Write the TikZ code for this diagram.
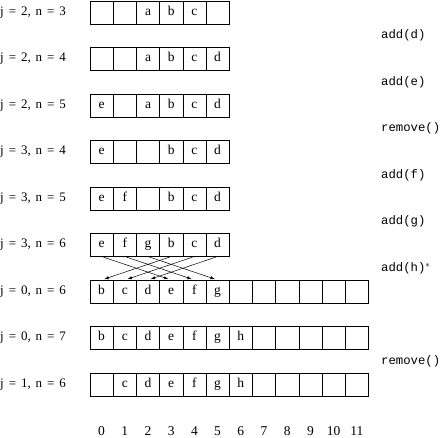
\documentclass[tikz,border=0pt]{standalone}
\usepackage{fontspec}
\setmainfont{Liberation Serif}
\newfontfamily\opfont{Liberation Mono}
\begin{document}
\begin{tikzpicture}[x=1pt, y=-1pt,
    slot/.style={draw, line width=.6pt, minimum width=23.2pt, minimum height=23pt,
      inner sep=0pt, outer sep=0pt, text height=1.5ex, text depth=.25ex,
      font=\fontsize{13.5}{15}\selectfont},
    rowlabel/.style={anchor=west, inner sep=0pt,
      font={\fontsize{13}{15}\selectfont\spaceskip=.38em\relax}},
    op/.style={anchor=west, inner sep=0pt, font=\opfont\fontsize{12.3}{14}\selectfont},
    idx/.style={inner sep=0pt, font=\fontsize{13.5}{15}\selectfont},
    move/.style={-latex, line width=.5pt, shorten <=1pt, shorten >=3pt}]
  \useasboundingbox (0, 0) rectangle (441, 437);

  % the array after each step
  \foreach \r/\lab/\cells in {
      1/{j = 2, n = 3}/{{},{},a,b,c,{}},
      2/{j = 2, n = 4}/{{},{},a,b,c,d},
      3/{j = 2, n = 5}/{e,{},a,b,c,d},
      4/{j = 3, n = 4}/{e,{},{},b,c,d},
      5/{j = 3, n = 5}/{e,f,{},b,c,d},
      6/{j = 3, n = 6}/{e,f,g,b,c,d},
      7/{j = 0, n = 6}/{b,c,d,e,f,g,{},{},{},{},{},{}},
      8/{j = 0, n = 7}/{b,c,d,e,f,g,h,{},{},{},{},{}},
      9/{j = 1, n = 6}/{{},c,d,e,f,g,h,{},{},{},{},{}}} {
    \node[rowlabel] (lab\r) at (0, {12.5 + 46.5*(\r - 1)}) {\lab};
    \foreach \c [count=\i from 0] in \cells
      \node[slot] (r\r-\i) at ({101.6 + 23.2*\i}, {12.5 + 46.5*(\r - 1)}) {\c};
  }

  % operations between the steps
  \foreach \k/\op in {0/{add(d)}, 1/{add(e)}, 2/{remove()}, 3/{add(f)},
      4/{add(g)}, 5/{add(h)$^*$}, 7/{remove()}}
    \node[op] (op\k) at (381, {35.75 + 46.5*\k}) {\op};

  % copying into the larger array
  \foreach \a/\b in {0/3, 1/4, 2/5, 3/0, 4/1, 5/2}
    \draw[move] (r6-\a.south) -- (r7-\b.north);

  % indices
  \foreach \i in {0, ..., 11}
    \node[idx] (ix\i) at ({101.6 + 23.2*\i}, 431) {\i};
\end{tikzpicture}
\end{document}
